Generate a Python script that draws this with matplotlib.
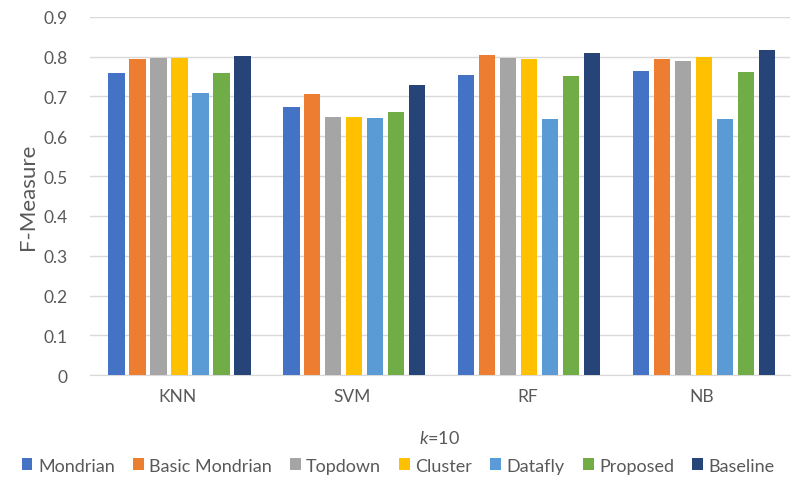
import numpy as np
import matplotlib.pyplot as plt

plt.rcParams["font.family"] = ["Lato", "DejaVu Sans"]
plt.rcParams["mathtext.fontset"] = "custom"
plt.rcParams["mathtext.it"] = "Lato:italic"
plt.rcParams["mathtext.rm"] = "Lato"

# F-Measure per classifier at k=10
classifiers = ["KNN", "SVM", "RF", "NB"]
methods = ["Mondrian", "Basic Mondrian", "Topdown", "Cluster", "Datafly", "Proposed", "Baseline"]
mondrian = [0.759, 0.674, 0.755, 0.764]
basic_mondrian = [0.793, 0.705, 0.804, 0.795]
topdown = [0.796, 0.649, 0.796, 0.790]
cluster = [0.796, 0.648, 0.794, 0.799]
datafly = [0.709, 0.646, 0.644, 0.644]
proposed = [0.759, 0.660, 0.751, 0.761]
baseline = [0.801, 0.729, 0.809, 0.817]
yticks = [0, 0.1, 0.2, 0.3, 0.4, 0.5, 0.6, 0.7, 0.8, 0.9]

series = [mondrian, basic_mondrian, topdown, cluster, datafly, proposed, baseline]
colors = ["#4472C4", "#ED7D31", "#A5A5A5", "#FFC000", "#5B9BD5", "#70AD47", "#264478"]
text_col = "#595959"

fig = plt.figure(figsize=(7.96, 4.81), dpi=100)
ax = fig.add_axes([0.113, 0.218, 0.879, 0.745])

x = np.arange(len(classifiers))
pitch = 0.12
width = 0.092
for i, (vals, c) in enumerate(zip(series, colors)):
    ax.bar(x + (i - 2.9) * pitch, vals, width, color=c, label=methods[i], zorder=3)

ax.set_xlim(-0.5, len(classifiers) - 0.5)
ax.set_ylim(0, 0.9)
ax.set_yticks(yticks)
ax.set_yticklabels([f"{t:g}" for t in yticks])
ax.set_xticks(x)
ax.set_xticklabels(classifiers)
ax.tick_params(axis="both", length=0, colors=text_col, labelsize=12.5)
ax.tick_params(axis="y", pad=16)
ax.tick_params(axis="x", pad=9)

ax.grid(axis="y", color="#D9D9D9", linewidth=1, zorder=0)
for s in ["top", "right", "left"]:
    ax.spines[s].set_visible(False)
ax.spines["bottom"].set_color("#D9D9D9")

ax.set_ylabel("F-Measure", fontsize=16, color=text_col, labelpad=4)
ax.set_xlabel("$k$=10", fontsize=13, color=text_col, labelpad=18)

fig.legend(loc="center", bbox_to_anchor=(0.5, 0.03), ncol=7, frameon=False,
           fontsize=13, labelcolor=text_col, handlelength=0.6, handleheight=0.6,
           handletextpad=0.3, columnspacing=1.0)

fig.savefig("out.png", dpi=100)
